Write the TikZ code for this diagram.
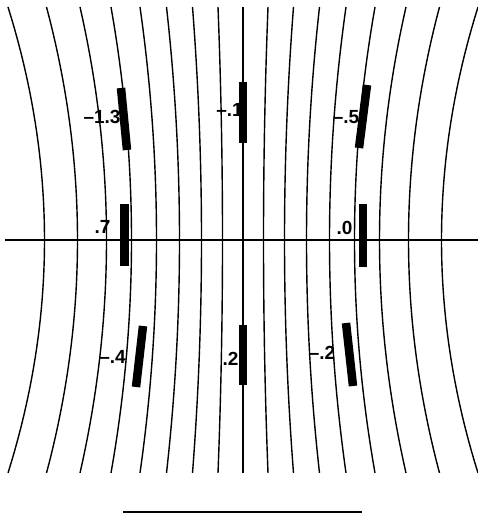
\documentclass[tikz,border=0pt]{standalone}
\usepackage{fontspec}
\setmainfont{Liberation Sans}
\begin{document}
\begin{tikzpicture}[x=1pt,y=-1pt,
  fieldline/.style={line width=1.4pt},
  axisline/.style={line width=1.4pt},
  barstyle/.style={line width=8.5pt,line cap=butt},
  lbl/.style={anchor=base,inner sep=0pt,font=\fontsize{19}{22}\selectfont\bfseries}]
\useasboundingbox (0,0) rectangle (478,516);
% field lines
\draw[fieldline] (243,7) -- (243,473);
\foreach \m/\d in {20.5/4.5, 41.5/9, 63.5/13, 86.5/16.5, 111.5/20.5, 136.5/26.5, 165.5/31, 198.5/36.5}{
  \draw[fieldline] plot[domain=-1:1,samples=41,smooth] ({243-\m-\d*\x*\x},{240+233*\x});
  \draw[fieldline] plot[domain=-1:1,samples=41,smooth] ({243+\m+\d*\x*\x},{240+233*\x});
}
% axis
\draw[axisline] (5,240) -- (478,240);
% bars
\draw[barstyle] (121,88) -- (127,150);
\draw[barstyle] (243,82) -- (243,143);
\draw[barstyle] (367,85) -- (359,148);
\draw[barstyle] (124.5,204) -- (124.5,266);
\draw[barstyle] (363,204) -- (363,267);
\draw[barstyle] (143,326) -- (136,387);
\draw[barstyle] (243,325) -- (243,385);
\draw[barstyle] (346,323) -- (353,386);
% labels
\node[lbl] (l1) at (102,123) {\textendash1.3};
\node[lbl] (l2) at (229.5,117) {\textendash.1};
\node[lbl] (l3) at (346,123) {\textendash.5};
\node[lbl] (l4) at (102.5,233) {.7};
\node[lbl] (l5) at (344.5,234) {.0};
\node[lbl] (l6) at (112.5,363) {\textendash.4};
\node[lbl] (l7) at (230.5,365) {.2};
\node[lbl] (l8) at (322,359) {\textendash.2};
% scale bar
\draw[line width=1.5pt] (123,512) -- (362,512);
\end{tikzpicture}
\end{document}
